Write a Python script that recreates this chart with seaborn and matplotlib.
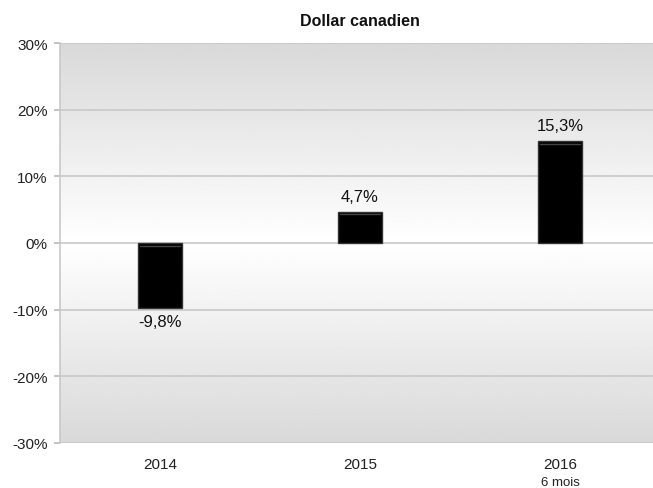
import numpy as np
import pandas as pd
import matplotlib
matplotlib.use("Agg")
import matplotlib.pyplot as plt
import seaborn as sns

categories = ["2014", "2015", "2016"]
values = [-9.8, 4.7, 15.3]
value_labels = ["-9,8%", "4,7%", "15,3%"]
yticks = [-30, -20, -10, 0, 10, 20, 30]
ytick_labels = ["-30%", "-20%", "-10%", "0%", "10%", "20%", "30%"]

sns.set_theme(style="white")
plt.rcParams['font.family'] = ['Liberation Sans', 'DejaVu Sans']

W, H = 653, 489
fig = plt.figure(figsize=(W / 100, H / 100), dpi=100)
ax = fig.add_axes([60 / W, 1 - 444 / H, 600 / W, 400 / H])

# gradient background: gray at top/bottom, white at zero
yy = np.linspace(30, -30, 300)
g = np.abs(yy) / 30.0
shade = 1.0 - 0.15 * g
img = np.repeat(shade[:, None], 2, axis=1)
ax.imshow(img, cmap="gray", vmin=0, vmax=1, aspect="auto",
          extent=(-0.5, 2.5, -30, 30), zorder=0, interpolation="bilinear")

for t in yticks:
    ax.axhline(t, color="#c8c8c8", lw=1.2, zorder=1)

df = pd.DataFrame({"cat": categories, "val": values})
sns.barplot(data=df, x="cat", y="val", color="black", width=0.22,
            saturation=1, ax=ax, zorder=3, edgecolor="#333333", linewidth=1)

# subtle highlight line on bars
for p in ax.patches:
    x0 = p.get_x()
    w = p.get_width()
    h = p.get_height()
    ytop = h if h > 0 else 0
    ax.plot([x0 + 0.01, x0 + w - 0.01], [ytop - 0.4, ytop - 0.4],
            color="#444444", lw=1, zorder=4)

for i, (v, lab) in enumerate(zip(values, value_labels)):
    if v >= 0:
        ax.text(i, v + 1.2, lab, ha="center", va="bottom", fontsize=12, color="#111111", zorder=5)
    else:
        ax.text(i, v - 0.9, lab, ha="center", va="top", fontsize=12, color="#111111", zorder=5)

ax.set_xlim(-0.5, 2.5)
ax.set_ylim(-30, 30)
ax.set_yticks(yticks)
ax.set_yticklabels(ytick_labels, fontsize=11, color="#222222")
ax.set_xticks(range(3))
ax.set_xticklabels(categories, fontsize=11, color="#222222")
ax.set_xlabel("")
ax.set_ylabel("")
ax.tick_params(axis="y", length=4, color="#bbbbbb", pad=5, left=True)
ax.tick_params(axis="x", length=0, pad=10)
for s in ["top", "right", "bottom"]:
    ax.spines[s].set_visible(False)
ax.spines["left"].set_color("#c8c8c8")
ax.spines["left"].set_linewidth(1.2)

fig.text((60 + 500) / W, 1 - 483 / H, "6 mois", ha="center", va="center", fontsize=9.5, color="#222222")
fig.text(360 / W, 1 - 22 / H, "Dollar canadien", ha="center", va="center",
         fontsize=11.5, fontweight="bold", color="#111111")

fig.savefig("out.png", dpi=100)
